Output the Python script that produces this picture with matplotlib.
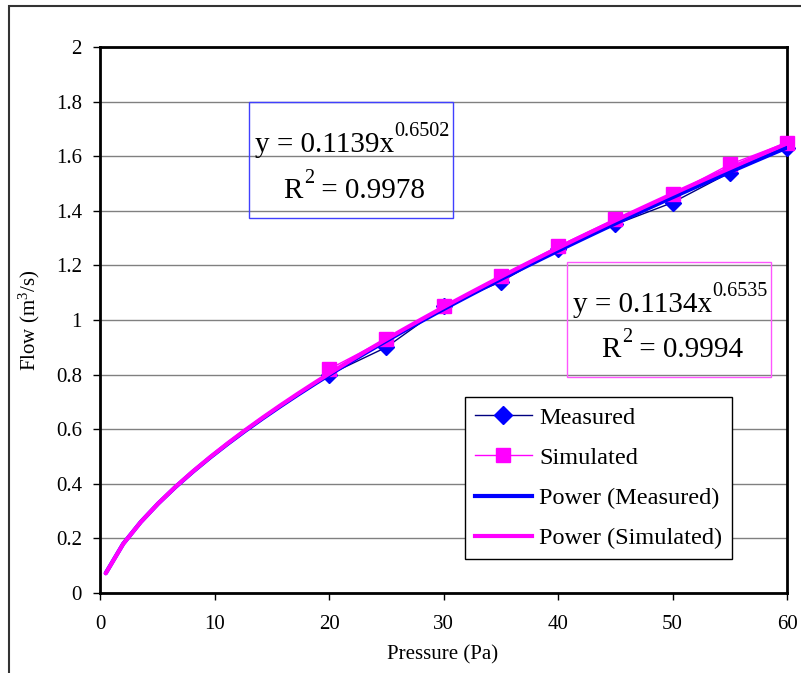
import matplotlib
matplotlib.use("Agg")
import matplotlib.pyplot as plt
import numpy as np
from matplotlib.lines import Line2D
from matplotlib.patches import Rectangle

plt.rcParams["font.family"] = ["Liberation Serif", "DejaVu Serif"]
plt.rcParams["mathtext.fontset"] = "custom"
plt.rcParams["mathtext.rm"] = "Liberation Serif"
plt.rcParams["mathtext.it"] = "Liberation Serif:italic"

# data
pressure = [20, 25, 30, 35, 40, 45, 50, 55, 60]
measured = [0.80, 0.90, 1.05, 1.14, 1.26, 1.35, 1.43, 1.54, 1.63]
simulated = [0.82, 0.93, 1.05, 1.16, 1.27, 1.37, 1.46, 1.57, 1.65]

# power trendlines as printed on the chart
fit_measured = (0.1139, 0.6502, 0.9978)
fit_simulated = (0.1134, 0.6535, 0.9994)
trend_start = 0.5
trend_end = 60

W, H = 801, 673
fig = plt.figure(figsize=(W / 100, H / 100), dpi=100)


def fx(px):
    return px / W


def fy(py):
    return 1 - py / H


# outer chart-area frame (runs off the right and bottom of the picture)
fig.patches.append(Rectangle((fx(9), fy(700)), fx(820) - fx(9), fy(6) - fy(700),
                             transform=fig.transFigure, fill=False,
                             edgecolor="#333333", linewidth=1.5))

ax = fig.add_axes([fx(100), fy(593), fx(787) - fx(100), fy(47) - fy(593)])

tx = np.linspace(trend_start, trend_end, 40)
ax.plot(pressure, measured, color="#000080", lw=1, marker="D", ms=8,
        mfc="#0000FF", mec="#0000FF", clip_on=False, zorder=3)
ax.plot(pressure, simulated, color="#FF00FF", lw=1, marker="s", ms=10,
        mfc="#FF00FF", mec="#FF00FF", clip_on=False, zorder=3)
ax.plot(tx, fit_measured[0] * tx ** fit_measured[1], color="#0000FF", lw=3,
        solid_capstyle="round", zorder=4)
ax.plot(tx, fit_simulated[0] * tx ** fit_simulated[1], color="#FF00FF", lw=3,
        solid_capstyle="round", zorder=5)

ax.set_xlim(0, 60)
ax.set_ylim(0, 2)
ax.set_xticks(range(0, 61, 10))
ax.set_yticks(np.arange(0, 2.01, 0.2))
ax.set_yticklabels(["0", "0.2", "0.4", "0.6", "0.8", "1", "1.2", "1.4", "1.6", "1.8", "2"])
ax.yaxis.grid(True, color="#808080", lw=1)
ax.set_axisbelow(True)
for s in ax.spines.values():
    s.set_linewidth(2)
ax.tick_params(direction="out", length=5, width=1, labelsize=15, colors="black")
ax.tick_params(axis="x", pad=11)
ax.tick_params(axis="y", pad=8)

fig.text(fx(443), fy(655), "Pressure (Pa)", ha="center", va="center", fontsize=15)
fig.text(fx(29), fy(320), "Flow (m$^{3}$/s)", ha="center", va="center",
         fontsize=15, rotation=90)


def equation_box(fit, box, line1, line2, edge):
    x0, y0, x1, y1 = box
    fig.patches.append(Rectangle((fx(x0), fy(y1)), fx(x1) - fx(x0), fy(y0) - fy(y1),
                                 transform=fig.transFigure, fill=False,
                                 edgecolor=edge, linewidth=1))
    a, b, r2 = fit
    t1 = fig.text(fx(line1[0]), fy(line1[1]), f"y = {a:.4f}x", fontsize=21,
                  va="baseline", ha="left")
    ax.annotate(f"{b:.4f}", xy=(1, 0), xycoords=t1, xytext=(0, 22),
                textcoords="offset pixels", fontsize=14.5, va="baseline", ha="left")
    t2 = fig.text(fx(line2[0]), fy(line2[1]), "R", fontsize=21,
                  va="baseline", ha="left")
    sup = ax.annotate("2", xy=(1, 0), xycoords=t2, xytext=(2, 21),
                      textcoords="offset pixels", fontsize=14.5, va="baseline", ha="left")
    ax.annotate(f" = {r2:.4f}", xy=(1, 0), xycoords=(sup, t2), fontsize=21,
                va="bottom", ha="left")


equation_box(fit_measured, (249, 102, 453, 218), (255, 152), (283, 198), "#4040FF")
equation_box(fit_simulated, (567, 262, 771, 377), (573, 312), (601, 357), "#FF55FF")

handles = [
    Line2D([], [], color="#000080", lw=1, marker="D", ms=9, mfc="#0000FF", mec="#0000FF"),
    Line2D([], [], color="#FF00FF", lw=1, marker="s", ms=10, mfc="#FF00FF", mec="#FF00FF"),
    Line2D([], [], color="#0000FF", lw=3),
    Line2D([], [], color="#FF00FF", lw=3),
]
labels = ["Measured", "Simulated", "Power (Measured)", "Power (Simulated)"]
leg = fig.legend(handles, labels, loc="upper left", bbox_to_anchor=(fx(465), fy(397)),
                 bbox_transform=fig.transFigure, fontsize=17.5, frameon=True,
                 fancybox=False, edgecolor="black", framealpha=1,
                 borderpad=0.4, labelspacing=0.75, handlelength=2.35,
                 handletextpad=0.3, borderaxespad=0)
leg.get_frame().set_linewidth(1)

fig.savefig("out.png", dpi=100)
